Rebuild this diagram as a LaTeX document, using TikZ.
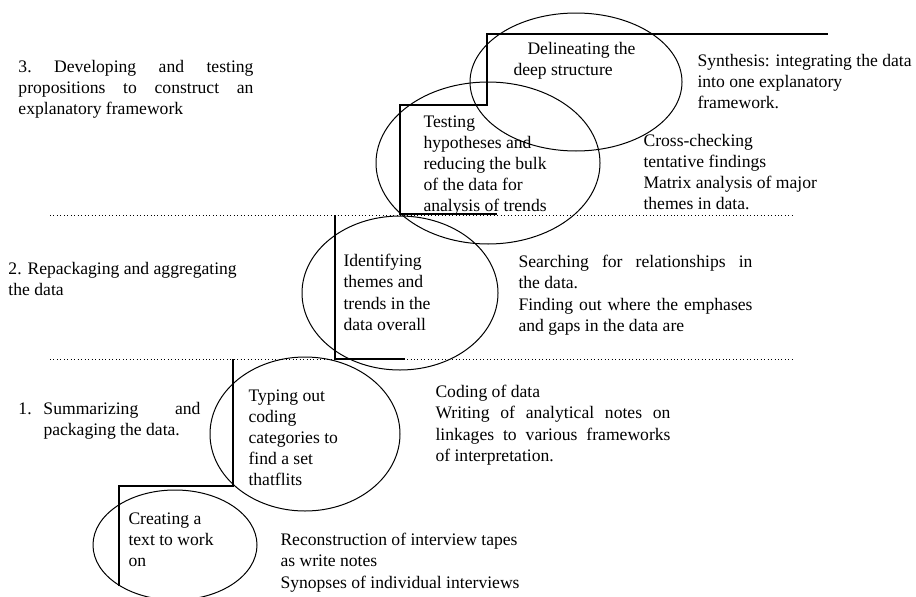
\documentclass[tikz,border=0pt]{standalone}
\usepackage{fontspec}
\setmainfont{Liberation Serif}
\newcommand{\bodyfont}{\fontsize{13.2}{15.8}\selectfont}

\tikzset{every picture/.style={line width=0.75pt}}
\tikzset{
  lbl/.style={anchor=north west, inner sep=0pt, font=\bodyfont, align=left},
  jlbl/.style={lbl, align=justify, text width=#1},
  riser/.style={line width=1.1pt},
  divider/.style={dotted, line width=0.6pt}
}

\begin{document}
\begin{tikzpicture}[x=0.75pt,y=0.75pt,yscale=-1,xscale=1]
\useasboundingbox (0,0) rectangle (916,596);

%Straight Lines: stage dividers
\draw [divider] (50,215) -- (793,215) ;
\draw [divider] (50,359) -- (793,359) ;

%Shape: Ellipse (stage 3, top)
\draw (576,82) ellipse (106 and 69) ;
%Shape: Ellipse (stage 3, lower)
\draw (488,163) ellipse (112 and 81) ;
%Shape: Ellipse (stage 2)
\draw (400,293) ellipse (98 and 77) ;
%Shape: Ellipse (stage 1, upper)
\draw (305,434) ellipse (95 and 77) ;
%Shape: Ellipse (stage 1, lower)
\begin{scope}
\clip (0,0) rectangle (916,596);
\draw (175,545) ellipse (82 and 55) ;
\end{scope}

%Straight Lines: the staircase
\draw [riser] (119,586) -- (119,486) -- (233,486) -- (233,359) ;
\draw [riser] (405,359) -- (335,359) -- (335,215) ;
\draw [riser] (497,214) -- (400,214) -- (400,105) -- (487,105) -- (487,34) -- (828,34) ;

% Text Node: stage labels
\node (stage3) [jlbl=176.25pt] at (18,60) {3.\ Developing and testing\linebreak propositions to construct an\linebreak explanatory framework};
\node (stage2) [lbl] at (8,262) {2. Repackaging and aggregating\\the data};
\node (stage1) [jlbl=136.5pt] at (18,402) {\makebox[18.75pt][l]{1.}Summarizing\hfill and\\\hspace*{18.75pt}packaging the data.};

% Text Node: inside the ellipses
\node (deep) [lbl] at (513,42) {\hspace*{10.5pt}Delineating the\\deep structure};
\node (testing) [lbl] at (423,115) {Testing\\hypotheses and\\reducing the bulk\\of the data for\\analysis of trends};
\node (themes) [lbl] at (343,254) {Identifying\\themes and\\trends in the\\data overall};
\node (coding) [lbl] at (248,389) {Typing out\\coding\\categories to\\find a set\\thatflits};
\node (text) [lbl] at (128,512) {Creating a\\text to work\\on};

% Text Node: activities
\node (synth) [lbl] at (697,54) {Synthesis: integrating the data\\into one explanatory\\framework.};
\node (cross) [lbl] at (643,134) {Cross-checking\\tentative findings\\Matrix analysis of major\\themes in data.};
\node (search) [jlbl=175.5pt] at (518,255) {Searching for relationships in\linebreak the data.\\Finding out where the emphases and gaps in the data are};
\node (notes) [jlbl=176.25pt] at (435,385) {Coding of data\\Writing of analytical notes on\linebreak linkages to various frameworks\linebreak of interpretation.};
\node (tapes) [lbl] at (280,533) {Reconstruction of interview tapes\\as write notes\\Synopses of individual interviews};

\end{tikzpicture}
\end{document}
